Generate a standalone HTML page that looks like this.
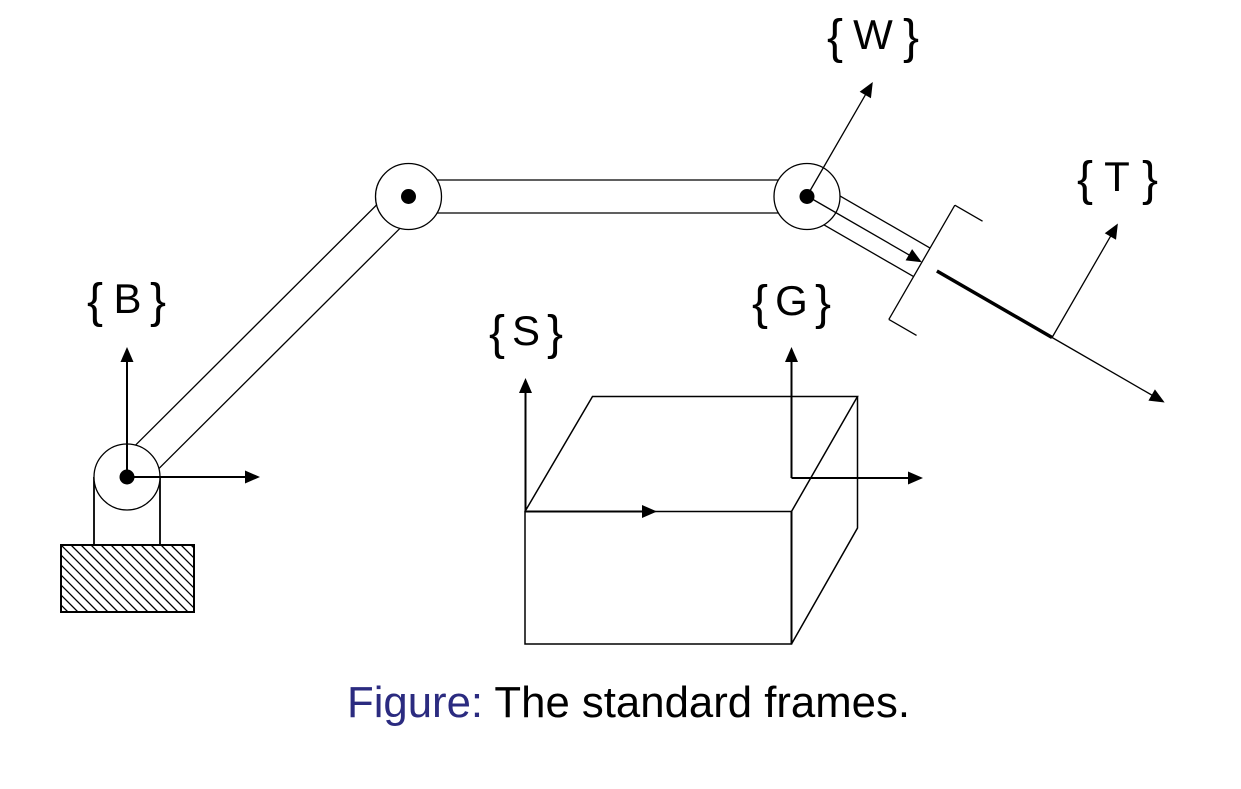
<!DOCTYPE html>
<html>
<head>
<meta charset="utf-8">
<style>
  html, body { margin: 0; padding: 0; background: #ffffff; }
  svg { display: block; }
  text { font-family: "Liberation Sans", "DejaVu Sans", sans-serif; fill: #000; }
</style>
</head>
<body>
<svg width="1241" height="789" viewBox="0 0 1241 789" xmlns="http://www.w3.org/2000/svg">
  <defs>
    <clipPath id="baseclip"><rect x="61" y="545" width="133" height="67"/></clipPath>
  </defs>
  <rect width="1241" height="789" fill="#fff"/>

  <!-- Base -->
  <g clip-path="url(#baseclip)" stroke="#000" stroke-width="1.3">
    <line x1="-9" y1="545" x2="58" y2="612"/>
    <line x1="1" y1="545" x2="68" y2="612"/>
    <line x1="11" y1="545" x2="78" y2="612"/>
    <line x1="21" y1="545" x2="88" y2="612"/>
    <line x1="31" y1="545" x2="98" y2="612"/>
    <line x1="41" y1="545" x2="108" y2="612"/>
    <line x1="51" y1="545" x2="118" y2="612"/>
    <line x1="61" y1="545" x2="128" y2="612"/>
    <line x1="71" y1="545" x2="138" y2="612"/>
    <line x1="81" y1="545" x2="148" y2="612"/>
    <line x1="91" y1="545" x2="158" y2="612"/>
    <line x1="101" y1="545" x2="168" y2="612"/>
    <line x1="111" y1="545" x2="178" y2="612"/>
    <line x1="121" y1="545" x2="188" y2="612"/>
    <line x1="131" y1="545" x2="198" y2="612"/>
    <line x1="141" y1="545" x2="208" y2="612"/>
    <line x1="151" y1="545" x2="218" y2="612"/>
    <line x1="161" y1="545" x2="228" y2="612"/>
    <line x1="171" y1="545" x2="238" y2="612"/>
    <line x1="181" y1="545" x2="248" y2="612"/>
    <line x1="191" y1="545" x2="258" y2="612"/>
  </g>
  <rect x="61" y="545" width="133" height="67" fill="none" stroke="#000" stroke-width="2"/>
  <line x1="94" y1="477" x2="94" y2="545" stroke="#000" stroke-width="1.8"/>
  <line x1="160" y1="477" x2="160" y2="545" stroke="#000" stroke-width="1.8"/>

  <!-- Diagonal link -->
  <line x1="115.3" y1="465.3" x2="396.8" y2="184.8" stroke="#000" stroke-width="1.3"/>
  <line x1="138.7" y1="488.7" x2="420.2" y2="208.2" stroke="#000" stroke-width="1.3"/>

  <!-- Upper link -->
  <line x1="408" y1="180" x2="807" y2="180" stroke="#000" stroke-width="1.3"/>
  <line x1="408" y1="213" x2="807" y2="213" stroke="#000" stroke-width="1.3"/>

  <!-- Wrist / gripper / tool (rotated frame) -->
  <g transform="translate(807,196) rotate(30)" stroke="#000" fill="none">
    <line x1="28" y1="-16.5" x2="132.6" y2="-16.5" stroke-width="1.3"/>
    <line x1="28" y1="16.5" x2="132.6" y2="16.5" stroke-width="1.3"/>
    <line x1="132.6" y1="-66" x2="132.6" y2="66" stroke-width="1.3"/>
    <line x1="132.6" y1="-66" x2="164.6" y2="-66" stroke-width="1.3"/>
    <line x1="132.6" y1="66" x2="164.6" y2="66" stroke-width="1.3"/>
    <line x1="150" y1="0" x2="283" y2="0" stroke-width="3.5"/>
  </g>

  <!-- Joint circles -->
  <circle cx="127" cy="477" r="33" fill="#fff" stroke="#000" stroke-width="1.3"/>
  <circle cx="408.5" cy="196.5" r="33" fill="#fff" stroke="#000" stroke-width="1.3"/>
  <circle cx="807" cy="196.5" r="33" fill="#fff" stroke="#000" stroke-width="1.3"/>

  <!-- Rotated arrows (drawn over circles) -->
  <g transform="translate(807,196) rotate(30)" stroke="#000">
    <line x1="0" y1="0" x2="120" y2="0" stroke-width="1.3"/>
    <polygon points="132.6,0 117.6,-6.5 117.6,6.5" fill="#000" stroke="none"/>
    <line x1="0" y1="0" x2="0" y2="-120" stroke-width="1.3"/>
    <polygon points="0,-131.6 -6.5,-116.6 6.5,-116.6" fill="#000" stroke="none"/>
    <line x1="283" y1="0" x2="283" y2="-120" stroke-width="1.3"/>
    <polygon points="283,-131.6 276.5,-116.6 289.5,-116.6" fill="#000" stroke="none"/>
    <line x1="283" y1="0" x2="401" y2="0" stroke-width="1.3"/>
    <polygon points="413,0 398,-6.5 398,6.5" fill="#000" stroke="none"/>
  </g>

  <!-- Joint dots -->
  <circle cx="127" cy="477" r="7.5" fill="#000"/>
  <circle cx="408.5" cy="196.5" r="7.5" fill="#000"/>
  <circle cx="807" cy="196.5" r="7.5" fill="#000"/>

  <!-- B frame -->
  <line x1="127" y1="477" x2="127" y2="360" stroke="#000" stroke-width="2"/>
  <polygon points="127,347 120.5,362 133.5,362" fill="#000"/>
  <line x1="127" y1="477" x2="247" y2="477" stroke="#000" stroke-width="2"/>
  <polygon points="260,477 245,470.5 245,483.5" fill="#000"/>

  <!-- Box -->
  <g stroke="#000" fill="none" stroke-width="1.5" stroke-linejoin="miter">
    <rect x="525" y="511.5" width="266.5" height="132.5"/>
    <polyline points="525,511.5 592.5,396.5 857.5,396.5 791.5,511.5"/>
    <polyline points="857.5,396.5 857.5,528 791.5,644"/>
  </g>
  <line x1="791.5" y1="511.5" x2="791.5" y2="644" stroke="#000" stroke-width="2"/>

  <!-- S frame -->
  <line x1="525.5" y1="511.5" x2="525.5" y2="391" stroke="#000" stroke-width="2"/>
  <polygon points="525.5,378 519,393 532,393" fill="#000"/>
  <line x1="525.5" y1="511.5" x2="644" y2="511.5" stroke="#000" stroke-width="2"/>
  <polygon points="657,511.5 642,505 642,518" fill="#000"/>

  <!-- G frame -->
  <line x1="791.5" y1="478" x2="791.5" y2="360" stroke="#000" stroke-width="2"/>
  <polygon points="791.5,347 785,362 798,362" fill="#000"/>
  <line x1="791.5" y1="478" x2="910" y2="478" stroke="#000" stroke-width="2"/>
  <polygon points="923,478 908,471.5 908,484.5" fill="#000"/>

  <!-- Labels -->
  <g font-size="42">
    <text x="87" y="317" font-size="48">{</text>
    <text x="127.5" y="313" text-anchor="middle">B</text>
    <text x="166" y="317" font-size="48" text-anchor="end">}</text>

    <text x="489" y="349" font-size="48">{</text>
    <text x="526" y="345" text-anchor="middle">S</text>
    <text x="563" y="349" font-size="48" text-anchor="end">}</text>

    <text x="752" y="319" font-size="48">{</text>
    <text x="791.5" y="315" text-anchor="middle">G</text>
    <text x="831" y="319" font-size="48" text-anchor="end">}</text>

    <text x="827" y="53" font-size="48">{</text>
    <text x="873" y="49" text-anchor="middle">W</text>
    <text x="919" y="53" font-size="48" text-anchor="end">}</text>

    <text x="1077" y="195" font-size="48">{</text>
    <text x="1117" y="191" text-anchor="middle">T</text>
    <text x="1158" y="195" font-size="48" text-anchor="end">}</text>
  </g>

  <!-- Caption -->
  <text x="347" y="717" font-size="44" textLength="563" lengthAdjust="spacingAndGlyphs"><tspan fill="#2b2b80">Figure:</tspan> The standard frames.</text>
</svg>
</body>
</html>
